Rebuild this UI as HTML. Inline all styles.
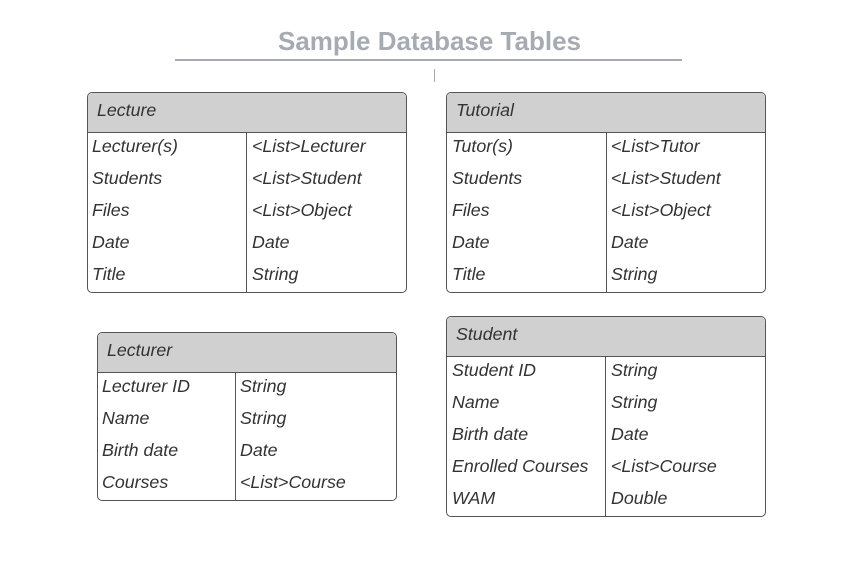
<!DOCTYPE html>
<html><head><meta charset="utf-8"><style>
body{margin:0;width:853px;height:572px;background:#fff;position:relative;overflow:hidden;font-family:"Liberation Sans",sans-serif}
.t{position:absolute;border:1px solid #555;border-radius:5px;background:#fff;box-sizing:border-box;overflow:hidden}
.h{height:40px;background:#d0d0d0;border-bottom:1px solid #555;box-sizing:border-box;font-style:italic;font-size:17.8px;color:#333;line-height:34px;padding-left:9px}
.r{height:32px;font-style:italic;font-size:17.8px;color:#333;line-height:26px;position:relative}
.r span{position:absolute;top:0}
.v{position:absolute;top:40px;bottom:0;width:1px;background:#555}
</style></head><body>
<div style="position:absolute;left:176px;top:24px;width:507px;text-align:center;font-weight:bold;font-size:26px;color:#a6abb3;line-height:34px">Sample Database Tables</div>
<div style="position:absolute;left:175px;top:59px;width:507px;height:2px;background:#a6abb3"></div>
<div style="position:absolute;left:434px;top:69px;width:1px;height:13px;background:#a6abb3"></div>

<div class="t" style="left:87px;top:92px;width:320px;height:201px">
<div class="h">Lecture</div><div class="v" style="left:158px"></div>
<div class="r"><span style="left:4px">Lecturer(s)</span><span style="left:164px">&lt;List&gt;Lecturer</span></div>
<div class="r"><span style="left:4px">Students</span><span style="left:164px">&lt;List&gt;Student</span></div>
<div class="r"><span style="left:4px">Files</span><span style="left:164px">&lt;List&gt;Object</span></div>
<div class="r"><span style="left:4px">Date</span><span style="left:164px">Date</span></div>
<div class="r"><span style="left:4px">Title</span><span style="left:164px">String</span></div>
</div>

<div class="t" style="left:446px;top:92px;width:320px;height:201px">
<div class="h">Tutorial</div><div class="v" style="left:159px"></div>
<div class="r"><span style="left:5px">Tutor(s)</span><span style="left:164px">&lt;List&gt;Tutor</span></div>
<div class="r"><span style="left:5px">Students</span><span style="left:164px">&lt;List&gt;Student</span></div>
<div class="r"><span style="left:5px">Files</span><span style="left:164px">&lt;List&gt;Object</span></div>
<div class="r"><span style="left:5px">Date</span><span style="left:164px">Date</span></div>
<div class="r"><span style="left:5px">Title</span><span style="left:164px">String</span></div>
</div>

<div class="t" style="left:97px;top:332px;width:300px;height:169px">
<div class="h">Lecturer</div><div class="v" style="left:137px"></div>
<div class="r"><span style="left:4px">Lecturer ID</span><span style="left:142px">String</span></div>
<div class="r"><span style="left:4px">Name</span><span style="left:142px">String</span></div>
<div class="r"><span style="left:4px">Birth date</span><span style="left:142px">Date</span></div>
<div class="r"><span style="left:4px">Courses</span><span style="left:142px">&lt;List&gt;Course</span></div>
</div>

<div class="t" style="left:446px;top:316px;width:320px;height:201px">
<div class="h">Student</div><div class="v" style="left:158px"></div>
<div class="r"><span style="left:5px">Student ID</span><span style="left:164px">String</span></div>
<div class="r"><span style="left:5px">Name</span><span style="left:164px">String</span></div>
<div class="r"><span style="left:5px">Birth date</span><span style="left:164px">Date</span></div>
<div class="r"><span style="left:5px">Enrolled Courses</span><span style="left:164px">&lt;List&gt;Course</span></div>
<div class="r"><span style="left:5px">WAM</span><span style="left:164px">Double</span></div>
</div>
</body></html>
